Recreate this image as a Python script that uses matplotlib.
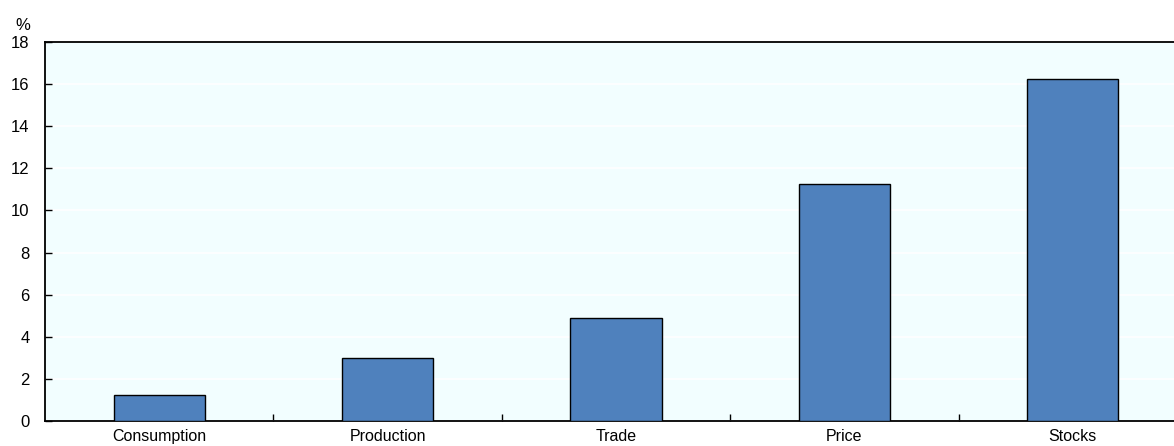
import matplotlib
matplotlib.use("Agg")
import matplotlib.pyplot as plt
import numpy as np

categories = ["Consumption", "Production", "Trade", "Price", "Stocks"]
values = [1.23, 2.99, 4.91, 11.25, 16.24]
yticks = [0, 2, 4, 6, 8, 10, 12, 14, 16, 18]

plt.rcParams['font.family'] = ['Liberation Sans', 'DejaVu Sans']

fig = plt.figure(figsize=(11.74, 4.46), dpi=100)
ax = fig.add_axes([45/1174, 25/446, 1142/1174, 379/446])
ax.set_facecolor('#f2feff')

x = np.arange(len(categories))
ax.bar(x, values, width=0.40, color='#4f81bd', edgecolor='black', linewidth=1.0, zorder=3)

ax.set_xlim(-0.5, len(categories) - 0.5)
ax.set_ylim(0, 18)
ax.set_yticks(yticks)
ax.set_yticklabels([str(t) for t in yticks], fontsize=12)
ax.yaxis.grid(True, color='white', linewidth=1.2, zorder=1)
ax.set_axisbelow(True)

ax.set_xticks(x)
ax.set_xticklabels(categories, fontsize=11.5)
ax.tick_params(axis='x', which='major', length=0, pad=6)
ax.set_xticks(np.arange(0.5, len(categories) - 1, 1.0), minor=True)
ax.tick_params(axis='x', which='minor', length=5, direction='in', width=1)
ax.tick_params(axis='y', length=5, direction='in', width=1, pad=11)

for s in ['left', 'bottom', 'top']:
    ax.spines[s].set_linewidth(1.3)
    ax.spines[s].set_color('black')
ax.spines['right'].set_visible(False)

fig.text(23/1174, 1 - 26/446, '%', fontsize=12, ha='center', va='center')

fig.savefig('out.png', dpi=100)
